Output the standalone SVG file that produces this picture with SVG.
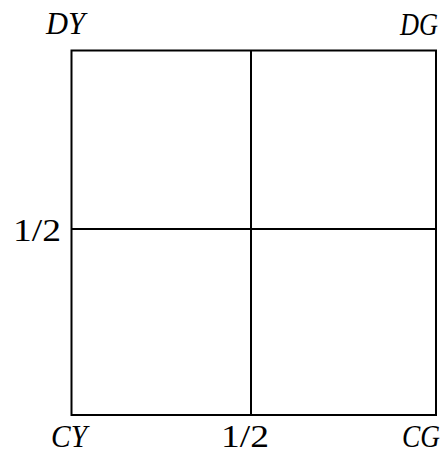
<svg xmlns="http://www.w3.org/2000/svg" width="445" height="457" viewBox="0 0 445 457">
<style>
.l{fill:none;stroke:#000;stroke-width:2}
.t{font-family:"Liberation Serif","DejaVu Serif",serif;font-size:31px;fill:#000}
.i{font-style:italic}
</style>
<rect width="445" height="457" fill="#fff"/>
<g id="connectors">
<rect class="l" x="71.5" y="50.5" width="364.5" height="364.5"/>
<line class="l" x1="251" y1="50.5" x2="251" y2="415"/>
<line class="l" x1="71.5" y1="229" x2="436" y2="229"/>
</g>
<g id="DY"><text class="t i" x="46" y="34" textLength="39" lengthAdjust="spacingAndGlyphs">DY</text></g>
<g id="DG"><text class="t i" x="400" y="35" textLength="38" lengthAdjust="spacingAndGlyphs">DG</text></g>
<g id="half-left"><text class="t" x="13" y="241" textLength="48" lengthAdjust="spacingAndGlyphs">1/2</text></g>
<g id="CY"><text class="t i" x="51" y="447" textLength="36" lengthAdjust="spacingAndGlyphs">CY</text></g>
<g id="half-bottom"><text class="t" x="221" y="447" textLength="48" lengthAdjust="spacingAndGlyphs">1/2</text></g>
<g id="CG"><text class="t i" x="402" y="447" textLength="38" lengthAdjust="spacingAndGlyphs">CG</text></g>
</svg>
